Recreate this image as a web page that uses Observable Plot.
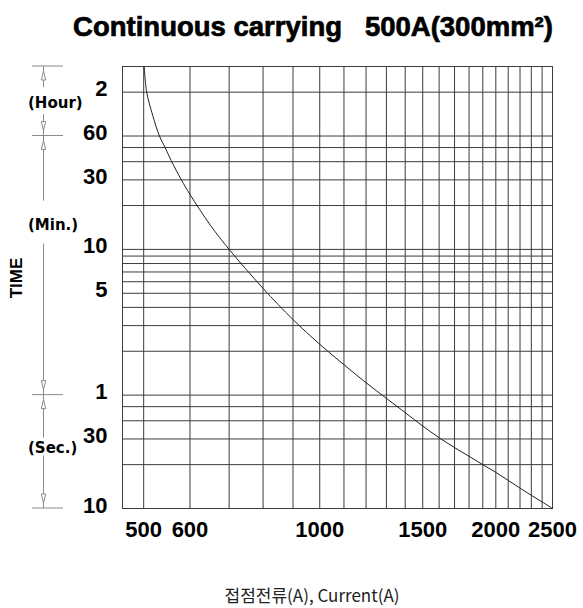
<!DOCTYPE html>
<html><head><meta charset="utf-8">
<script src="https://cdn.jsdelivr.net/npm/d3@7"></script>
<script src="https://cdn.jsdelivr.net/npm/@observablehq/plot@0.6"></script>
<style>
body{margin:0;background:#fff;}
#chart svg{display:block;}
</style></head><body><div id="chart"></div>
<script>
// ---- data ----
const currentA = [501, 506, 518, 532, 544, 557, 580, 600, 650, 700, 800, 900, 1000, 1100, 1200, 1300, 1400, 1500, 1600, 1700, 1800, 1900, 2000, 2100, 2200, 2300, 2400, 2500];
const timeSec  = [10800, 7200, 5000, 3600, 3000, 2450, 1800, 1430, 880, 600, 324, 198, 134, 97, 73, 57, 45.5, 36.8, 30.6, 26.2, 22.8, 20.0, 17.7, 15.6, 13.8, 12.3, 11.1, 10];

const xGrid = [500,600,700,800,900,1000,1100,1200,1300,1400,1500,1600,1700,1800,1900,2000,2100,2200,2300,2400,2500];
const yGrid = [10,20,30,40,50,60,120,180,240,300,360,420,480,540,600,1200,1800,2400,3000,3600,7200,10800];

const yTickValues = [7200,3600,1800,600,300,60,30,10];
const yTickLabels = ["2","60","30","10","5","1","30","10"];
const xTickValues = [500,600,1000,1500,2000,2500];
const xTickLabels = ["500","600","1000","1500","2000","2500"];

const titleText = "Continuous carrying   500A(300mm²)";
const xCaption = "접점전류(A), Current(A)";
const yTitle = "TIME";
const unitLabels = ["(Hour)","(Min.)","(Sec.)"];
const unitLabelAt = [6000, 880, 26];          // seconds, where each unit label sits
const unitBounds = [10800, 3600, 60, 10];      // seconds, unit boundaries

// ---- chart ----
const data = currentA.map((c,i)=>({current:c, time:timeSec[i]}));
const yTicks = yTickValues.map((v,i)=>({v, label:yTickLabels[i]}));
const xTicks = xTickValues.map((v,i)=>({v, label:xTickLabels[i]}));

const plot = Plot.plot({
  width:583, height:608,
  marginTop:66, marginBottom:100, marginLeft:122, marginRight:31,
  x:{type:"log", domain:[460,2500], axis:null},
  y:{type:"log", domain:[10,10800], axis:null},
  style:{fontFamily:"'Liberation Sans', Arial, sans-serif", background:"#fff", color:"#000", overflow:"visible"},
  marks:[
    Plot.ruleX(xGrid, {stroke:"#3c3c3c", strokeWidth:1}),
    Plot.ruleY(yGrid, {stroke:"#3c3c3c", strokeWidth:1}),
    Plot.frame({stroke:"#3c3c3c"}),
    Plot.text(yTicks, {y:"v", text:"label", frameAnchor:"left", textAnchor:"end", dx:-15, dy:-3, fontSize:22, fontWeight:"bold", fill:"#000"}),
    Plot.text(xTicks, {x:"v", text:"label", frameAnchor:"bottom", lineAnchor:"top", dy:13, fontSize:22, fontWeight:"bold", fill:"#000"}),
    Plot.line(data, {x:"current", y:"time", curve:"catmull-rom", stroke:"#222", strokeWidth:1})
  ]
});

// ---- annotations (positions via the plot's own y scale) ----
const svg = d3.select(plot);
const ys = plot.scale("y");
const Y = v => ys.apply(v);

svg.append("text").attr("x",313).attr("y",36).attr("text-anchor","middle")
  .style("font","bold 27.5px 'Liberation Sans', Arial, sans-serif").style("white-space","pre")
  .attr("stroke","#000").attr("stroke-width",0.7).text(titleText);

svg.append("text").attr("x",312).attr("y",602).attr("text-anchor","middle")
  .style("font","17px 'Noto Sans CJK KR', 'Noto Sans', sans-serif").attr("fill","#222").text(xCaption);

svg.append("text").attr("transform","translate(22,278) rotate(-90)").attr("text-anchor","middle")
  .style("font","bold 17px 'Liberation Sans', Arial, sans-serif").text(yTitle);

const ax = 43.5, gray = "#8a8a8a";
const ann = svg.append("g").attr("stroke",gray).attr("fill","none").attr("stroke-width",1);
unitBounds.forEach(v=>{
  ann.append("line").attr("x1",32).attr("x2",63).attr("y1",Y(v)).attr("y2",Y(v));
});
const gaps = [[16,11],[24,19],[10,8]];
function head(y, dir){ // dir -1: pointing up, +1: pointing down
  const tip = y, base = y - dir*9;
  ann.append("path").attr("d",`M${ax},${tip}L${ax-2.2},${base}L${ax+2.2},${base}Z`).attr("fill","#fff");
}
unitLabels.forEach((lab,i)=>{
  const yt = Y(unitBounds[i]), yb = Y(unitBounds[i+1]), yl = Y(unitLabelAt[i]);
  ann.append("line").attr("x1",ax).attr("x2",ax).attr("y1",yt).attr("y2",yl-gaps[i][0]);
  ann.append("line").attr("x1",ax).attr("x2",ax).attr("y1",yl+gaps[i][1]).attr("y2",yb);
  head(yt+5, -1);
  head(yb-5, 1);
  svg.append("text").attr("x",28).attr("y",yl).attr("dy","0.35em").attr("text-anchor","start")
    .style("font","bold 15px 'DejaVu Sans', sans-serif").text(lab);
});

document.getElementById("chart").appendChild(plot);
</script></body></html>
